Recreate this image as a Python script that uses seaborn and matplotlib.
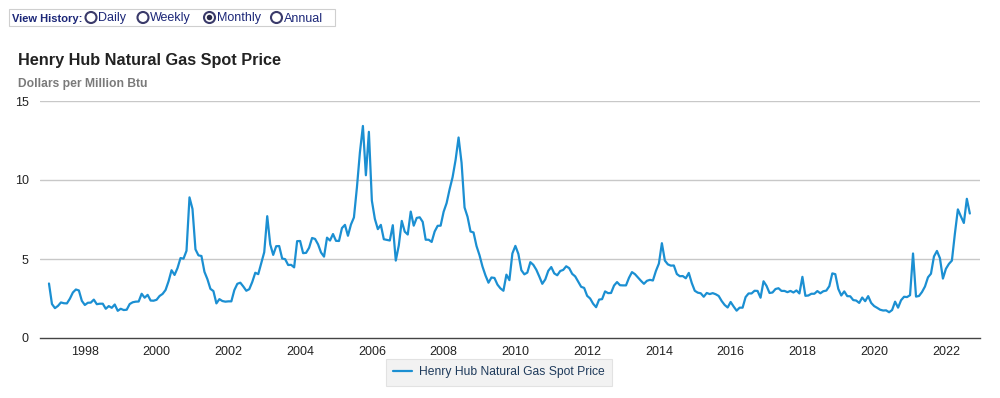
import matplotlib.pyplot as plt
import numpy as np
import pandas as pd
import seaborn as sns
from matplotlib.patches import Ellipse, Rectangle

# Monthly Henry Hub spot price, Jan 1997 - Sep 2022 (dollars per million Btu)
start_year = 1997
prices = [
    # 1997
    3.45, 2.15, 1.89, 2.03, 2.25, 2.20, 2.19, 2.49, 2.88, 3.07, 3.01, 2.35,
    # 1998
    2.09, 2.23, 2.24, 2.43, 2.14, 2.17, 2.17, 1.85, 2.02, 1.91, 2.12, 1.72,
    # 1999
    1.85, 1.77, 1.79, 2.15, 2.26, 2.30, 2.31, 2.80, 2.55, 2.73, 2.37, 2.36,
    # 2000
    2.42, 2.66, 2.79, 3.04, 3.59, 4.29, 3.99, 4.43, 5.06, 5.02, 5.52, 8.90,
    # 2001
    8.17, 5.61, 5.23, 5.19, 4.19, 3.72, 3.11, 2.97, 2.19, 2.46, 2.34, 2.30,
    # 2002
    2.32, 2.32, 3.03, 3.43, 3.50, 3.26, 2.99, 3.09, 3.55, 4.13, 4.04, 4.74,
    # 2003
    5.43, 7.71, 5.93, 5.26, 5.81, 5.82, 5.03, 4.99, 4.62, 4.63, 4.47, 6.13,
    # 2004
    6.14, 5.37, 5.39, 5.71, 6.33, 6.27, 5.93, 5.41, 5.15, 6.35, 6.17, 6.58,
    # 2005
    6.15, 6.14, 6.96, 7.16, 6.47, 7.18, 7.63, 9.53, 11.75, 13.42, 10.30, 13.05,
    # 2006
    8.69, 7.54, 6.89, 7.16, 6.25, 6.21, 6.17, 7.14, 4.90, 5.85, 7.41, 6.73,
    # 2007
    6.55, 8.00, 7.11, 7.60, 7.64, 7.35, 6.22, 6.22, 6.08, 6.74, 7.10, 7.11,
    # 2008
    7.99, 8.54, 9.41, 10.18, 11.27, 12.69, 11.09, 8.26, 7.67, 6.74, 6.68, 5.82,
    # 2009
    5.24, 4.52, 3.96, 3.50, 3.83, 3.80, 3.38, 3.14, 2.99, 4.01, 3.66, 5.35,
    # 2010
    5.83, 5.32, 4.29, 4.03, 4.14, 4.80, 4.63, 4.32, 3.89, 3.43, 3.71, 4.25,
    # 2011
    4.49, 4.09, 3.97, 4.24, 4.31, 4.54, 4.42, 4.06, 3.90, 3.57, 3.24, 3.17,
    # 2012
    2.67, 2.50, 2.17, 1.95, 2.43, 2.46, 2.95, 2.84, 2.85, 3.32, 3.54, 3.34,
    # 2013
    3.33, 3.33, 3.81, 4.17, 4.04, 3.83, 3.62, 3.43, 3.62, 3.68, 3.64, 4.24,
    # 2014
    4.71, 6.00, 4.90, 4.66, 4.58, 4.59, 4.05, 3.91, 3.92, 3.78, 4.12, 3.48,
    # 2015
    2.99, 2.87, 2.83, 2.61, 2.85, 2.78, 2.84, 2.77, 2.66, 2.34, 2.09, 1.93,
    # 2016
    2.28, 1.99, 1.73, 1.92, 1.92, 2.59, 2.82, 2.82, 2.99, 2.98, 2.55, 3.59,
    # 2017
    3.30, 2.85, 2.88, 3.10, 3.15, 2.98, 2.98, 2.90, 2.98, 2.88, 3.01, 2.82,
    # 2018
    3.87, 2.67, 2.69, 2.80, 2.80, 2.97, 2.83, 2.96, 3.00, 3.28, 4.09, 4.04,
    # 2019
    3.11, 2.69, 2.95, 2.65, 2.64, 2.40, 2.37, 2.22, 2.56, 2.33, 2.65, 2.22,
    # 2020
    2.02, 1.91, 1.79, 1.74, 1.75, 1.63, 1.77, 2.30, 1.92, 2.39, 2.61, 2.59,
    # 2021
    2.71, 5.35, 2.62, 2.66, 2.91, 3.26, 3.84, 4.07, 5.16, 5.51, 5.05, 3.76,
    # 2022
    4.38, 4.69, 4.90, 6.60, 8.14, 7.70, 7.28, 8.81, 7.88,
]
year_ticks = list(range(1998, 2023, 2))
y_ticks = [0, 5, 10, 15]
series_name = "Henry Hub Natural Gas Spot Price"
view_options = ["Daily", "Weekly", "Monthly", "Annual"]
selected_view = "Monthly"

df = pd.DataFrame({
    "year": start_year + np.arange(len(prices)) / 12.0,
    "price": prices,
})

sns.set_style("white")
plt.rcParams["font.family"] = ["Liberation Sans", "DejaVu Sans"]

W, H = 1000, 398
fig = plt.figure(figsize=(W / 100, H / 100), dpi=100)
ax = fig.add_axes([40 / W, 1 - 338 / H, 940 / W, 237 / H])

line_color = "#1b8fd2"
sns.lineplot(data=df, x="year", y="price", ax=ax, color=line_color,
             linewidth=1.6, label=series_name)

ax.set_xlim(1996.75, 2022.95)
ax.set_ylim(0, 15)
ax.set_xticks(year_ticks)
ax.set_xticklabels([str(y) for y in year_ticks])
ax.set_yticks(y_ticks)
ax.set_xlabel("")
ax.set_ylabel("")

for v in y_ticks[1:]:
    ax.axhline(v, color="#c8c8c8", linewidth=1.0, zorder=0)

for side in ["top", "right", "left"]:
    ax.spines[side].set_visible(False)
ax.spines["bottom"].set_color("#444444")
ax.spines["bottom"].set_linewidth(1.0)
ax.tick_params(axis="x", length=3, width=0.8, color="#444444", pad=3,
               labelsize=9, labelcolor="#222222")
ax.tick_params(axis="y", length=0, pad=8, labelsize=9, labelcolor="#222222")
ax.grid(False)

leg = ax.legend(loc="center", bbox_to_anchor=(499 / W, 1 - 372.5 / H),
                bbox_transform=fig.transFigure, frameon=True, fancybox=False,
                fontsize=8.7, handlelength=1.6, handletextpad=0.6,
                borderpad=0.6, labelcolor="#1f3b5c")
leg.get_frame().set_facecolor("#efefef")
leg.get_frame().set_edgecolor("#dddddd")
leg.get_frame().set_linewidth(0.8)

# titles
fig.text(18 / W, 1 - 61 / H, "Henry Hub Natural Gas Spot Price",
         fontsize=11.7, fontweight="bold", color="#222222", va="center")
fig.text(18 / W, 1 - 84 / H, "Dollars per Million Btu",
         fontsize=8.7, fontweight="bold", color="#7a7a7a", va="center")

# "View History" selector at the top
navy = "#1c2778"
base_y = 1 - 21.5 / H
fig.patches.append(Rectangle((9 / W, 1 - 26 / H), 326 / W, 17 / H,
                             transform=fig.transFigure, facecolor="white",
                             edgecolor="#cfcfcf", linewidth=0.8))
fig.text(12 / W, base_y, "View History:", fontsize=8,
         fontweight="bold", color=navy, va="baseline")
circle_x = [91, 143, 209.5, 276.5]
text_x = [98, 150, 217, 284]
for label, cx, tx in zip(view_options, circle_x, text_x):
    fig.patches.append(Ellipse((cx / W, 1 - 17.5 / H), 11 / W, 11 / H,
                               transform=fig.transFigure, facecolor="white",
                               edgecolor="#3a3a6a", linewidth=1.5))
    if label == selected_view:
        fig.patches.append(Ellipse((cx / W, 1 - 17.5 / H), 5.5 / W, 5.5 / H,
                                   transform=fig.transFigure,
                                   facecolor="#2a2a4a", edgecolor="none"))
    fig.text(tx / W, base_y, label, fontsize=9, color=navy, va="baseline")

fig.savefig("out.png", dpi=100, facecolor="white")
